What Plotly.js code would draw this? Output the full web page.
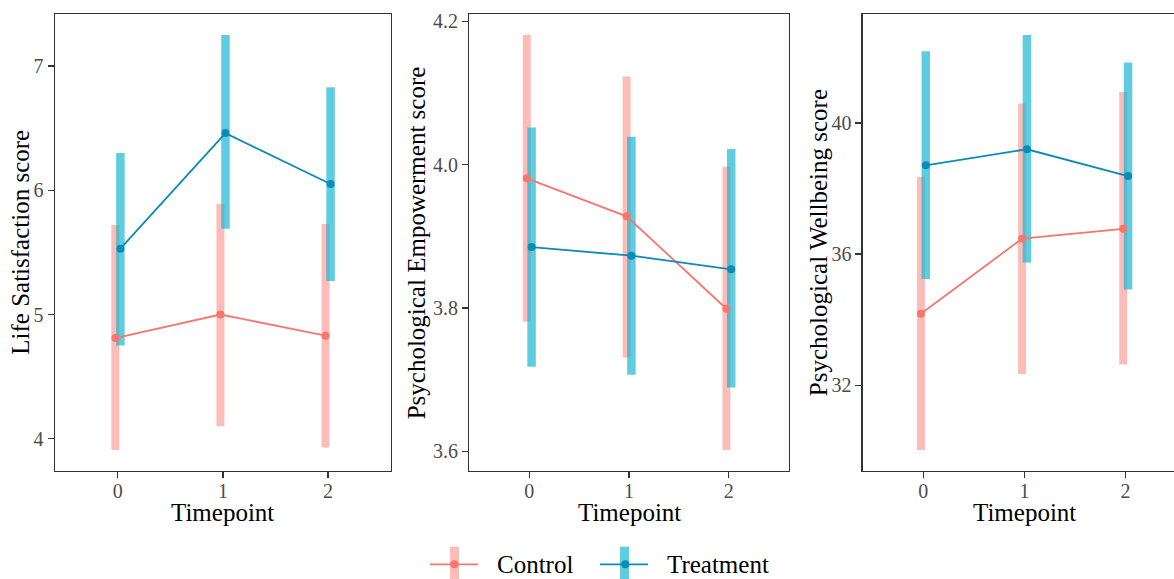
<!DOCTYPE html>
<html>
<head>
<meta charset="utf-8">
<script src="https://cdn.plot.ly/plotly-3.0.1.min.js"></script>
<style>
html,body{margin:0;padding:0;overflow:hidden;background:#fff;}
#chart{width:1194px;height:579px;}
</style>
</head>
<body>
<div id="chart"></div>
<script>
// ---- data ----
var timepoints = [0, 1, 2];
var groups = ["Control", "Treatment"];

var lifeSatTitle = "Life Satisfaction score";
var lifeSatControl = [4.81, 5.00, 4.83];
var lifeSatControlLo = [3.91, 4.10, 3.93];
var lifeSatControlHi = [5.72, 5.89, 5.73];
var lifeSatTreat = [5.53, 6.46, 6.05];
var lifeSatTreatLo = [4.75, 5.69, 5.27];
var lifeSatTreatHi = [6.30, 7.25, 6.83];
var lifeSatTicks = [4, 5, 6, 7];

var empTitle = "Psychological Empowerment score";
var empControl = [3.981, 3.928, 3.799];
var empControlLo = [3.781, 3.731, 3.602];
var empControlHi = [4.181, 4.123, 3.997];
var empTreat = [3.885, 3.873, 3.854];
var empTreatLo = [3.718, 3.707, 3.689];
var empTreatHi = [4.052, 4.039, 4.022];
var empTicks = [3.6, 3.8, 4.0, 4.2];

var wellTitle = "Psychological Wellbeing score";
var wellControl = [34.18, 36.47, 36.77];
var wellControlLo = [30.02, 32.34, 32.63];
var wellControlHi = [38.36, 40.60, 40.95];
var wellTreat = [38.71, 39.20, 38.38];
var wellTreatLo = [35.24, 35.74, 34.92];
var wellTreatHi = [42.19, 42.69, 41.85];
var wellTicks = [32, 36, 40];

var xTitle = "Timepoint";

// ---- styles ----
var W = 1194, H = 579;
var FONT = "Liberation Serif";
var colCtrlLine = "#F8766D";
var colCtrlBar = "rgba(248,118,109,0.48)";
var colTrtLine = "#0B8BB8";
var colTrtBar = "rgba(20,180,210,0.68)";
var dodge = 0.024;

function px(x){ return x / W; }
function py(y){ return 1 - y / H; }

var panels = [
  {title: lifeSatTitle, c: lifeSatControl, cl: lifeSatControlLo, ch: lifeSatControlHi,
   t: lifeSatTreat, tl: lifeSatTreatLo, th: lifeSatTreatHi, ticks: lifeSatTicks, fmt: "d",
   dom: [54.8, 391.1], titleX: 20.3},
  {title: empTitle, c: empControl, cl: empControlLo, ch: empControlHi,
   t: empTreat, tl: empTreatLo, th: empTreatHi, ticks: empTicks, fmt: ".1f",
   dom: [469.3, 788.7], titleX: 416.9},
  {title: wellTitle, c: wellControl, cl: wellControlLo, ch: wellControlHi,
   t: wellTreat, tl: wellTreatLo, th: wellTreatHi, ticks: wellTicks, fmt: "d",
   dom: [862.7, 1186.3], titleX: 818.7}
];

function barXY(vals, lo, hi, off){
  var xs = [], ys = [];
  for (var i = 0; i < vals.length; i++){
    xs.push(timepoints[i] + off, timepoints[i] + off, null);
    ys.push(lo[i], hi[i], null);
  }
  return {x: xs, y: ys};
}
function yRange(arrs){
  var mn = Infinity, mx = -Infinity;
  arrs.forEach(function(a){ a.forEach(function(v){ mn = Math.min(mn, v); mx = Math.max(mx, v); }); });
  var pad = (mx - mn) * 0.05;
  return [mn - pad, mx + pad];
}

var traces = [];
var layout = {
  width: W, height: H,
  margin: {l: 0, r: 0, t: 0, b: 0},
  paper_bgcolor: "#fff", plot_bgcolor: "#fff",
  showlegend: false,
  font: {family: FONT, color: "#000"},
  annotations: [], shapes: []
};
var yTop = 14.2, yBot = 470.7;
var yDom = [py(yBot), py(yTop)];

panels.forEach(function(p, k){
  var n = k === 0 ? "" : String(k + 1);
  var xa = "x" + n, ya = "y" + n;
  var cb = barXY(p.c, p.cl, p.ch, -dodge);
  var tb = barXY(p.t, p.tl, p.th, dodge);
  traces.push({x: cb.x, y: cb.y, xaxis: xa, yaxis: ya, mode: "lines", type: "scatter",
    line: {color: colCtrlBar, width: 8}, hoverinfo: "skip", name: groups[0] + " CI"});
  traces.push({x: tb.x, y: tb.y, xaxis: xa, yaxis: ya, mode: "lines", type: "scatter",
    line: {color: colTrtBar, width: 8.5}, hoverinfo: "skip", name: groups[1] + " CI"});
  traces.push({x: timepoints.map(function(t){return t - dodge;}), y: p.c, xaxis: xa, yaxis: ya,
    mode: "lines+markers", type: "scatter", name: groups[0],
    line: {color: colCtrlLine, width: 1.8}, marker: {color: colCtrlLine, size: 8}});
  traces.push({x: timepoints.map(function(t){return t + dodge;}), y: p.t, xaxis: xa, yaxis: ya,
    mode: "lines+markers", type: "scatter", name: groups[1],
    line: {color: colTrtLine, width: 1.8}, marker: {color: colTrtLine, size: 8}});

  var axCommon = {
    showgrid: false, zeroline: false, showline: true, mirror: true,
    linecolor: "#333333", linewidth: 1.3,
    ticks: "outside", ticklen: 6, tickwidth: 1.2, tickcolor: "#333333",
    tickfont: {family: FONT, size: 20, color: "#4D4D4D"}
  };
  layout["xaxis" + n] = Object.assign({}, axCommon, {
    domain: [px(p.dom[0]), px(p.dom[1])], anchor: ya,
    range: [-0.6, 2.6], tickmode: "array", tickvals: timepoints,
    ticktext: timepoints.map(String), ticklabelstandoff: -4
  });
  layout["yaxis" + n] = Object.assign({}, axCommon, {
    domain: yDom, anchor: xa,
    range: yRange([p.cl, p.ch, p.tl, p.th]),
    tickmode: "array", tickvals: p.ticks, tickformat: p.fmt
  });
  layout.annotations.push({
    xref: "paper", yref: "paper", x: px(p.titleX), y: py((yTop + yBot) / 2),
    text: p.title, textangle: -90, showarrow: false,
    xanchor: "center", yanchor: "middle",
    font: {family: FONT, size: 25, color: "#000"}
  });
  layout.annotations.push({
    xref: "paper", yref: "paper", x: px((p.dom[0] + p.dom[1]) / 2), y: py(512),
    text: xTitle, showarrow: false, xanchor: "center", yanchor: "middle",
    font: {family: FONT, size: 25, color: "#000"}
  });
});

// ---- legend (drawn) ----
var legendItems = [
  {name: groups[0], bar: [450, 459], line: [430, 478], dot: 454.3, textX: 494.5, bc: colCtrlBar, lc: colCtrlLine},
  {name: groups[1], bar: [620, 629], line: [600, 648], dot: 625.3, textX: 664.5, bc: colTrtBar, lc: colTrtLine}
];
var ly = 564.3;
legendItems.forEach(function(it){
  layout.shapes.push({type: "rect", xref: "paper", yref: "paper",
    x0: px(it.bar[0]), x1: px(it.bar[1]), y0: py(ly + 18), y1: py(ly - 17.6),
    fillcolor: it.bc, line: {width: 0}});
  layout.shapes.push({type: "line", xref: "paper", yref: "paper",
    x0: px(it.line[0]), x1: px(it.line[1]), y0: py(ly), y1: py(ly),
    line: {color: it.lc, width: 1.8}});
  layout.shapes.push({type: "circle", xref: "paper", yref: "paper",
    x0: px(it.dot - 4), x1: px(it.dot + 4), y0: py(ly + 4), y1: py(ly - 4),
    fillcolor: it.lc, line: {width: 0}});
  layout.annotations.push({xref: "paper", yref: "paper", x: px(it.textX), y: py(ly),
    text: it.name, showarrow: false, xanchor: "left", yanchor: "middle",
    font: {family: FONT, size: 25, color: "#000"}});
});

Plotly.newPlot("chart", traces, layout, {staticPlot: true, displayModeBar: false});
</script>
</body>
</html>
